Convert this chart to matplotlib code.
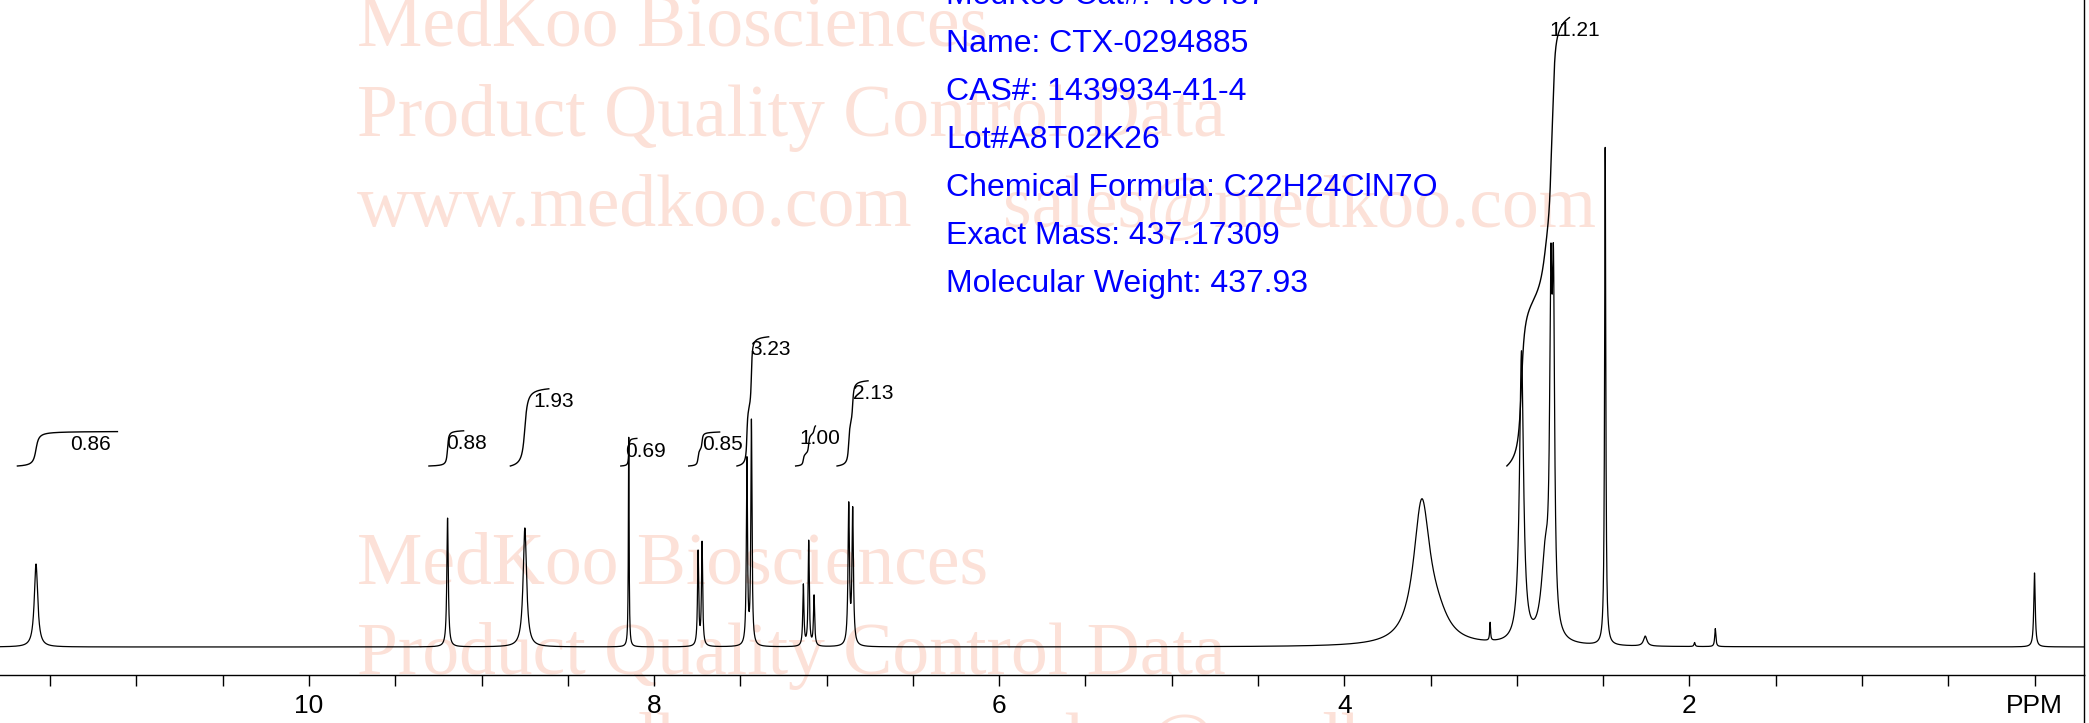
import numpy as np
import matplotlib
matplotlib.use('Agg')
import matplotlib.pyplot as plt
from matplotlib.lines import Line2D

plt.rcParams['font.family'] = ['Liberation Sans', 'DejaVu Sans']

# ---------------- data ----------------
peak_ppm = [11.582, 9.197, 8.749, 8.147, 7.745, 7.722, 7.462, 7.436,
            7.135, 7.104, 7.073, 6.872, 6.849,
            3.551, 3.46, 3.155, 2.973, 2.835, 2.803, 2.788,
            2.488, 2.256, 1.97, 1.85, 0.0]
peak_height = [83, 129, 119, 210, 94, 103, 185, 224,
               61, 105, 50, 139, 134,
               140, 18, 18, 290, 80, 295, 312,
               498, 10, 4, 18, 74]
peak_hwhm = [0.012, 0.005, 0.012, 0.0025, 0.004, 0.004, 0.004, 0.004,
             0.004, 0.004, 0.004, 0.005, 0.005,
             0.058, 0.08, 0.003, 0.014, 0.028, 0.008, 0.008,
             0.004, 0.012, 0.004, 0.004, 0.005]

integral_values = [0.86, 0.88, 1.93, 0.69, 0.85, 3.23, 1.00, 2.13, 11.21]
integral_start = [11.69, 9.305, 8.833, 8.193, 7.80, 7.52, 7.18, 6.94, 3.058]
integral_end = [11.11, 9.104, 8.61, 8.10, 7.62, 7.336, 7.065, 6.76, 2.695]

tick_ppm = [11.5, 11.0, 10.5, 10.0, 9.5, 9.0, 8.5, 8.0, 7.5, 7.0, 6.5, 6.0,
            5.5, 5.0, 4.5, 4.0, 3.5, 3.0, 2.5, 2.0, 1.5, 1.0, 0.5, 0.0]
tick_text = {10.0: '10', 8.0: '8', 6.0: '6', 4.0: '4', 2.0: '2', 0.0: 'PPM'}

info_lines = ["MedKoo Cat#: 406437",
              "Name: CTX-0294885",
              "CAS#: 1439934-41-4",
              "Lot#A8T02K26",
              "Chemical Formula: C22H24ClN7O",
              "Exact Mass: 437.17309",
              "Molecular Weight: 437.93"]
watermark_lines = ["MedKoo Biosciences", "Product Quality Control Data", "www.medkoo.com"]
watermark_mail = "sales@medkoo.com"

# ---------------- layout ----------------
W, H = 2089, 723
label_ppm = [11.382, 9.204, 8.702, 8.170, 7.722, 7.444, 7.158, 6.849, 2.811]
integral_base = 181.0
integral_scale = 40.0

fig = plt.figure(figsize=(W / 100, H / 100), dpi=100)
ax_bottom_px = 675
ax_right_px = 2084
ax = fig.add_axes([0, (H - ax_bottom_px) / H, ax_right_px / W, ax_bottom_px / H])
px_per_ppm = 172.55
x10 = 309.0
ax.set_xlim(10 + x10 / px_per_ppm, 10 - (ax_right_px - x10) / px_per_ppm)
ax.set_ylim(-28, 647)

# spectrum
ppm = np.linspace(11.80, -0.30, 30000)
spec = np.zeros_like(ppm)
for p, h, g in zip(peak_ppm, peak_height, peak_hwhm):
    spec += h / (1.0 + ((ppm - p) / g) ** 2)
ax.plot(ppm, spec, color='black', lw=0.9, zorder=3)

# integrals
for v, s, e, lp in zip(integral_values, integral_start, integral_end, label_ppm):
    m = (ppm <= s) & (ppm >= e)
    seg_x = ppm[m]
    cum = np.cumsum(spec[m])
    cum = cum / cum[-1]
    top = integral_base + v * integral_scale
    ax.plot(seg_x, integral_base + cum * v * integral_scale, color='black', lw=1.0, zorder=3)
    ax.text(lp, top - 13, f"{v:.2f}", fontsize=15, ha='left', va='center', zorder=4)

# axes styling
for sp in ['top', 'left']:
    ax.spines[sp].set_visible(False)
ax.spines['bottom'].set_linewidth(1.0)
ax.spines['right'].set_linewidth(1.0)
ax.set_yticks([])
ax.set_xticks(tick_ppm)
ax.set_xticklabels([tick_text.get(t, '') for t in tick_ppm])
ax.tick_params(axis='x', direction='out', length=8, width=1.0, labelsize=19, pad=6)
ax.patch.set_alpha(0)
fig.add_artist(Line2D([ax_right_px / W, ax_right_px / W], [0, (H - ax_bottom_px) / H],
                      transform=fig.transFigure, color='black', lw=1.0))

# watermark
wm_color = '#FCE1D8'
def fx(x):
    return x / W
def fy(y):
    return 1 - y / H
for base in (45.7, 583.6):
    for i, t in enumerate(watermark_lines):
        ax.text(fx(357), fy(base + 90 * i), t, transform=fig.transFigure, fontsize=53,
                family=['Liberation Serif', 'DejaVu Serif'], color=wm_color,
                ha='left', va='baseline', zorder=0, clip_on=False)
    ax.text(fx(1003), fy(base + 180), watermark_mail, transform=fig.transFigure, fontsize=53,
            family=['Liberation Serif', 'DejaVu Serif'], color=wm_color,
            ha='left', va='baseline', zorder=0, clip_on=False)

# info block
for i, t in enumerate(info_lines):
    fig.text(fx(946), fy(4.4 + 48 * i), t, fontsize=23, color='#0000FF',
             ha='left', va='baseline', zorder=5)

fig.savefig('out.png', dpi=100, facecolor='white')
